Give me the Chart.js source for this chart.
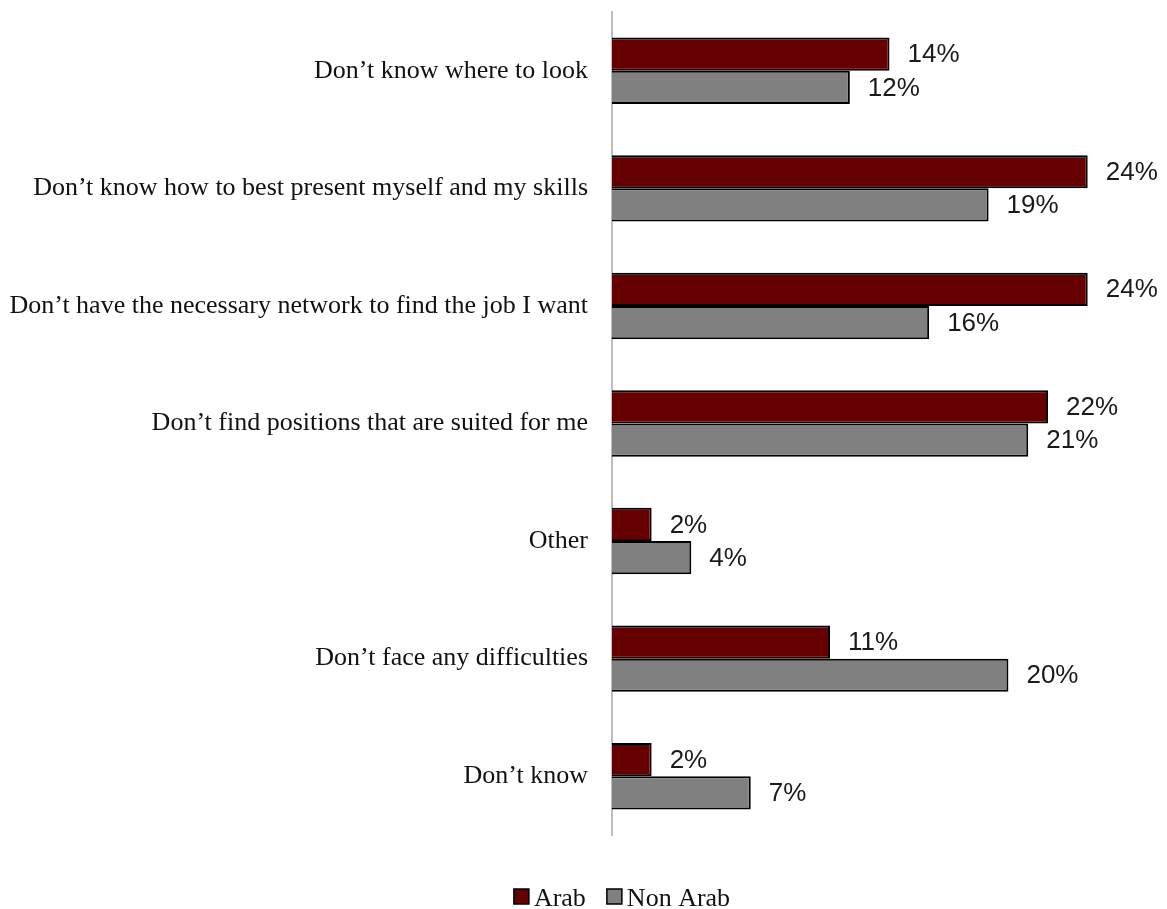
<!DOCTYPE html>
<html>
<head>
<meta charset="utf-8">
<script src="https://cdn.jsdelivr.net/npm/chart.js@4.4.1/dist/chart.umd.min.js"></script>
<style>
  html, body { margin: 0; padding: 0; background: #ffffff; }
  #wrap { width: 1167px; height: 909px; position: relative; }
</style>
</head>
<body>
<div id="wrap"><canvas id="chart" width="1167" height="909"></canvas></div>
<script>
// Difficulties reported when looking for a job, by group (percent of respondents)
const categories = [
  "Don\u2019t know where to look",
  "Don\u2019t know how to best present myself and my skills",
  "Don\u2019t have the necessary network to find the job I want",
  "Don\u2019t find positions that are suited for me",
  "Other",
  "Don\u2019t face any difficulties",
  "Don\u2019t know"
];
const arabValues = [14, 24, 24, 22, 2, 11, 2];
const nonArabValues = [12, 19, 16, 21, 4, 20, 7];
const seriesNames = ["Arab", "Non Arab"];

const SERIF = '"Liberation Serif", "Times New Roman", serif';
const SANS = '"Liberation Sans", Arial, sans-serif';

// Writes the percentage just past the end of each bar
const valueLabels = {
  id: 'valueLabels',
  afterDatasetsDraw(chart) {
    const ctx = chart.ctx;
    ctx.save();
    ctx.font = '26px ' + SANS;
    ctx.fillStyle = '#1a1a1a';
    ctx.textAlign = 'left';
    ctx.textBaseline = 'middle';
    chart.data.datasets.forEach((ds, i) => {
      const meta = chart.getDatasetMeta(i);
      meta.data.forEach((bar, j) => {
        ctx.fillText(ds.data[j] + '%', bar.x + 18, bar.y + 1);
      });
    });
    ctx.restore();
  }
};

// Legend row under the plot: small bordered swatch followed by the series name
const bottomLegend = {
  id: 'bottomLegend',
  afterDraw(chart) {
    const ctx = chart.ctx;
    const box = 15, gapText = 5, gapItem = 21;
    const centerX = 622, boxTop = 889, baseline = 906;
    ctx.save();
    ctx.font = '26px ' + SERIF;
    const items = chart.data.datasets.map(ds => ({
      ds, w: box + gapText + ctx.measureText(ds.label).width
    }));
    const total = items.reduce((s, it) => s + it.w, 0) + gapItem * (items.length - 1);
    let x = centerX - total / 2;
    items.forEach(it => {
      ctx.fillStyle = it.ds.backgroundColor;
      ctx.fillRect(x, boxTop, box, box);
      ctx.lineWidth = 1.5;
      ctx.strokeStyle = it.ds.borderColor;
      ctx.strokeRect(x, boxTop, box, box);
      ctx.fillStyle = '#111111';
      ctx.textAlign = 'left';
      ctx.textBaseline = 'alphabetic';
      ctx.fillText(it.ds.label, x + box + gapText, baseline);
      x += it.w + gapItem;
    });
    ctx.restore();
  }
};

new Chart(document.getElementById('chart'), {
  type: 'bar',
  data: {
    labels: categories,
    datasets: [
      {
        label: seriesNames[0],
        data: arabValues,
        backgroundColor: '#660000',
        borderColor: '#000000',
        borderWidth: 2
      },
      {
        label: seriesNames[1],
        data: nonArabValues,
        backgroundColor: '#808080',
        borderColor: '#000000',
        borderWidth: 2
      }
    ]
  },
  options: {
    indexAxis: 'y',
    responsive: false,
    animation: false,
    layout: { padding: { top: 12, left: 0, right: 0, bottom: 0 } },
    datasets: { bar: { categoryPercentage: 0.565, barPercentage: 1.0 } },
    scales: {
      x: {
        min: 0,
        max: 28,
        grid: { display: false },
        border: { display: false },
        ticks: { display: false },
        afterFit(scale) { scale.height = 74; scale.paddingLeft = 0; scale.paddingRight = 0; }
      },
      y: {
        grid: { display: false },
        border: { display: true, color: '#bdbdbd', width: 2 },
        ticks: {
          color: '#111111',
          padding: 16,
          font: { family: SERIF, size: 26 }
        },
        afterFit(scale) {
          scale.width = 612;
          scale.paddingTop = 0;
          scale.paddingBottom = 0;
        }
      }
    },
    plugins: {
      legend: { display: false },
      tooltip: { enabled: false }
    }
  },
  plugins: [valueLabels, bottomLegend]
});
</script>
</body>
</html>
